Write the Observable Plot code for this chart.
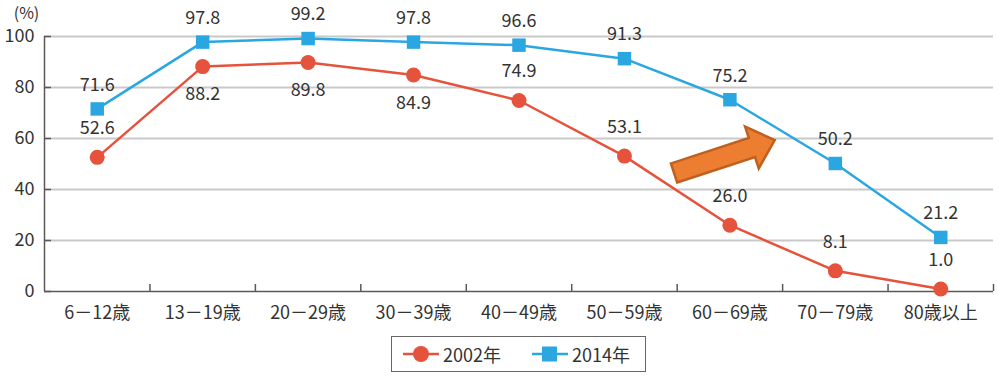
<!DOCTYPE html>
<html><head><meta charset="utf-8">
<script src="https://cdn.jsdelivr.net/npm/d3@7"></script>
<script src="https://cdn.jsdelivr.net/npm/@observablehq/plot@0.6"></script>
<style>
body{margin:0;background:#fff;font-family:"Noto Sans CJK JP","Noto Sans",sans-serif;color:#333;}
#wrap{position:relative;width:998px;height:377px;}
#legend{position:absolute;left:391px;top:336px;width:255px;height:36px;border:1px solid #666;box-sizing:border-box;display:flex;align-items:center;font-size:18px;color:#333;}
#legend .item{display:flex;align-items:center;}
</style></head>
<body><div id="wrap"><div id="chart"></div><div id="legend"></div></div>
<script>
const categories = ["6－12歳","13－19歳","20－29歳","30－39歳","40－49歳","50－59歳","60－69歳","70－79歳","80歳以上"];
const values2002 = [52.6, 88.2, 89.8, 84.9, 74.9, 53.1, 26.0, 8.1, 1.0];
const values2014 = [71.6, 97.8, 99.2, 97.8, 96.6, 91.3, 75.2, 50.2, 21.2];
const labelsBelow2002 = [1, 2, 3];
const yTicks = [0, 20, 40, 60, 80, 100];
const seriesNames = ["2002年", "2014年"];
const arrowTail = {x: 5.975, y: 46.3};
const arrowTip = {x: 6.93, y: 59.2};

const red = "#E5533D", blue = "#2AA7E1";
const rows2002 = values2002.map((v, i) => ({i, v}));
const rows2014 = values2014.map((v, i) => ({i, v}));
const xc = d => d.i + 0.5;

function arrowMark(index, scales) {
  const x1 = scales.x(arrowTail.x), y1 = scales.y(arrowTail.y);
  const x2 = scales.x(arrowTip.x), y2 = scales.y(arrowTip.y);
  const dx = x2 - x1, dy = y2 - y1, L = Math.hypot(dx, dy);
  const ux = dx / L, uy = dy / L, nx = -uy, ny = ux;
  const sw = 10, hw = 22, hl = 24;
  const bx = x2 - ux * hl, by = y2 - uy * hl;
  const pts = [
    [x1 + nx * sw, y1 + ny * sw], [bx + nx * sw, by + ny * sw], [bx + nx * hw, by + ny * hw],
    [x2, y2], [bx - nx * hw, by - ny * hw], [bx - nx * sw, by - ny * sw], [x1 - nx * sw, y1 - ny * sw]
  ];
  const p = document.createElementNS("http://www.w3.org/2000/svg", "polygon");
  p.setAttribute("points", pts.map(q => q.join(",")).join(" "));
  p.setAttribute("fill", "#ED7D31");
  p.setAttribute("stroke", "#C0601E");
  p.setAttribute("stroke-width", "2.5");
  p.setAttribute("stroke-linejoin", "miter");
  const g = document.createElementNS("http://www.w3.org/2000/svg", "g");
  g.appendChild(p);
  return g;
}

const fs = 18;
const chart = Plot.plot({
  width: 998, height: 326,
  marginLeft: 44, marginRight: 5, marginTop: 36, marginBottom: 35,
  style: {fontFamily: '"Noto Sans CJK JP","Noto Sans",sans-serif', fontSize: "18px", color: "#333", background: "#fff"},
  x: {type: "linear", domain: [0, 9], axis: null},
  y: {domain: [0, 100], axis: null},
  marks: [
    Plot.ruleY(yTicks.filter(d => d > 0), {stroke: "#c9c9c9", strokeWidth: 2}),
    Plot.ruleY([0], {stroke: "#5f5757", strokeWidth: 1.5}),
    Plot.ruleX([0], {y1: 0, y2: 100, stroke: "#5f5757", strokeWidth: 1.5}),
    Plot.ruleY(yTicks, {x1: 0, x2: 0, insetRight: -7, stroke: "#5f5757", strokeWidth: 1.5}),
    Plot.ruleX(d3.range(1, 10), {y1: 0, y2: 0, insetTop: -7, stroke: "#5f5757", strokeWidth: 1.5}),
    Plot.text(yTicks, {x: 0, y: d => d, dx: -10, textAnchor: "end", fill: "#333", fontSize: fs}),
    Plot.text(["(%)"], {x: 0, y: 100, dx: -18, dy: -23, fill: "#333", fontSize: 16}),
    Plot.text(categories, {x: (d, i) => i + 0.5, y: 0, dy: 22, fill: "#333", fontSize: fs}),
    Plot.line(rows2002, {x: xc, y: "v", stroke: red, strokeWidth: 2.5}),
    Plot.line(rows2014, {x: xc, y: "v", stroke: blue, strokeWidth: 2.5}),
    Plot.dot(rows2002, {x: xc, y: "v", r: 7.5, fill: red, symbol: "circle"}),
    Plot.dot(rows2014, {x: xc, y: "v", r: 7.6, fill: blue, symbol: "square"}),
    arrowMark,
    Plot.text(rows2014, {x: xc, y: "v", text: d => d.v.toFixed(1), dy: -24, fill: "#333", fontSize: fs}),
    Plot.text(rows2002.filter(d => !labelsBelow2002.includes(d.i)), {x: xc, y: "v", text: d => d.v.toFixed(1), dy: -29, fill: "#333", fontSize: fs}),
    Plot.text(rows2002.filter(d => labelsBelow2002.includes(d.i)), {x: xc, y: "v", text: d => d.v.toFixed(1), dy: 28, fill: "#333", fontSize: fs})
  ]
});
document.getElementById("chart").appendChild(chart);

const legend = document.getElementById("legend");
legend.innerHTML = `
<div class="item" style="margin-left:10px">
  <svg width="38" height="20"><line x1="1" y1="10" x2="37" y2="10" stroke="${red}" stroke-width="2.5"/><circle cx="19" cy="10" r="8" fill="${red}"/></svg>
  <span style="margin-left:3px">${seriesNames[0]}</span>
</div>
<div class="item" style="margin-left:30px">
  <svg width="38" height="20"><line x1="1" y1="10" x2="37" y2="10" stroke="${blue}" stroke-width="2.5"/><rect x="11" y="2.5" width="15" height="15" fill="${blue}"/></svg>
  <span style="margin-left:3px">${seriesNames[1]}</span>
</div>`;
</script>
</body></html>
